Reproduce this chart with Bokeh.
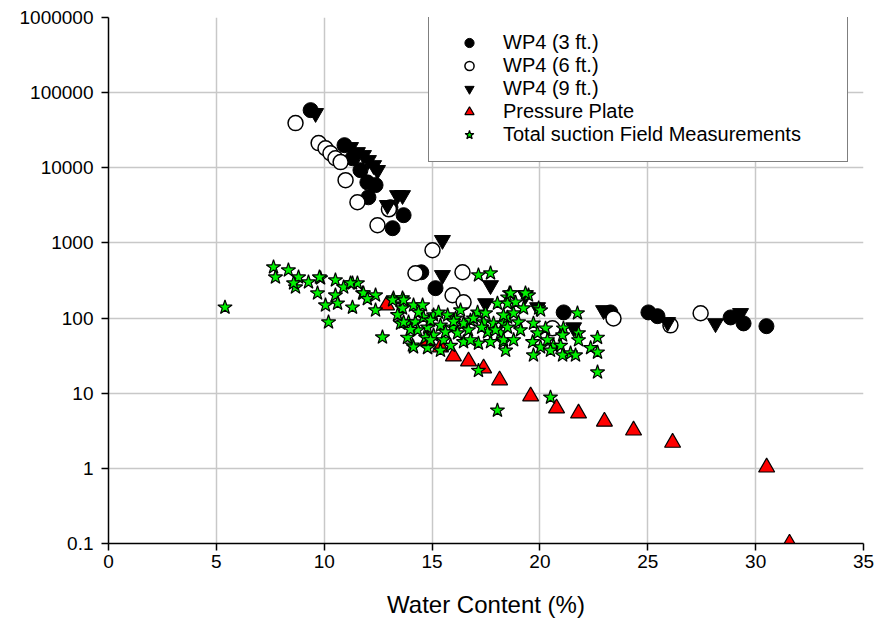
from bokeh.plotting import figure
from bokeh.models import FixedTicker, CustomJSTickFormatter, Legend, LegendItem
from bokeh.embed import file_html
from bokeh.resources import INLINE

# ---- data (water content %, suction) ----
wp3_x = [9.37, 10.94, 11.31, 11.68, 12.0, 12.38, 12.05, 13.07, 13.68, 13.17,
         14.5, 15.16, 21.1, 23.27, 25.03, 25.45, 28.84, 29.44, 30.5]
wp3_y = [58500, 20000, 13400, 9300, 6400, 5880, 4050, 2990, 2340, 1570,
         407, 250, 119, 119, 119, 106, 102, 85, 78]

wp6_x = [8.67, 9.74, 10.06, 10.29, 10.52, 10.76, 10.99, 11.54, 12.47, 13.0,
         15.02, 14.23, 16.41, 15.95, 16.46, 20.58, 23.41, 26.05, 27.45]
wp6_y = [39300, 21300, 18200, 15600, 13400, 11900, 6840, 3480, 1720, 2800,
         800, 395, 407, 201, 162, 73, 99, 80, 116]

wp9_x = [9.6, 11.22, 11.54, 11.82, 12.05, 12.29, 12.47, 13.4, 13.63, 12.93,
         15.48, 15.48, 17.71, 17.48, 19.33, 19.89, 21.56, 22.95, 25.92, 28.14, 29.3]
wp9_y = [53300, 18800, 16100, 14700, 12600, 10800, 9300, 4310, 4310, 3180,
         1090, 372, 273, 157, 201, 139, 75, 127, 88, 85, 116]

pp_x = [12.89, 14.79, 15.39, 15.99, 16.69, 17.39, 18.13, 19.57, 20.77, 21.79,
        22.99, 24.34, 26.15, 30.51, 31.57]
pp_y = [148, 50.6, 41, 31, 26.6, 21.5, 14.9, 9.1, 6.3, 5.4,
        4.2, 3.2, 2.2, 1.03, 0.1]

ts_x = [5.4, 7.65, 7.74, 8.34, 8.67, 8.81, 9.27, 9.83, 9.69, 10.06,
        10.2, 10.52, 10.52, 10.62, 10.9, 11.31, 11.54, 11.31, 11.78, 12.38,
        12.38, 12.7, 13.21, 13.63, 13.63, 13.54, 13.91, 14.09, 13.68, 14.14,
        14.56, 13.68, 14.23, 14.6, 15.07, 15.72, 14.79, 15.39, 15.95, 16.46,
        17.11, 16.78, 17.39, 18.03, 18.5, 17.85, 18.31, 14.14, 14.79, 14.7,
        15.53, 16.46, 17.15, 17.71, 18.31, 13.86, 15.07, 16.18, 17.57, 18.17,
        18.5, 18.59, 18.5, 18.87, 19.24, 18.31, 18.78, 19.01, 18.5, 19.1,
        18.31, 18.78, 18.41, 19.47, 19.94, 19.7, 20.26, 19.89, 19.66, 20.03,
        19.7, 20.35, 20.63, 21.09, 21.05, 20.96, 21.05, 21.42, 21.65, 21.74,
        21.79, 21.79, 22.67, 22.35, 22.67, 22.67, 20.49, 17.15, 18.03, 20.49,
        17.15, 17.71, 18.64, 19.33, 20.03, 8.58, 9.78, 11.82, 13.17, 11.22,
        14.37, 14.93, 15.3, 16.09, 16.32, 16.69, 16.92, 15.62, 17.48, 17.94,
        14.33, 15.86, 15.39, 14.93, 16.78, 13.4, 14.0, 16.0, 17.3, 12.0]
ts_y = [139, 475, 349, 433, 257, 349, 300, 339, 214, 148,
        88, 319, 201, 157, 257, 291, 291, 139, 214, 201,
        127, 55.5, 184, 184, 135, 85, 88, 43.4, 173, 148,
        148, 88, 88, 102, 109, 109, 75, 80, 75, 85,
        119, 93, 88, 157, 189, 85, 85, 41, 40, 55,
        51, 48, 46, 48, 48, 55, 59, 63, 65, 63,
        102, 214, 157, 162, 135, 109, 116, 88, 75, 69,
        51, 51, 37, 201, 135, 85, 73, 63, 48, 41,
        32, 51, 43, 73, 59, 43, 32, 34, 32, 116,
        63, 51, 55, 40, 35, 19, 37, 20, 5.9, 8.8,
        372, 395, 214, 214, 127, 291, 349, 214, 173, 291,
        119, 93, 119, 99, 127, 69, 99, 65, 116, 69,
        69, 43, 37, 51, 51, 110, 70, 90, 75, 180]

x_ticks = [0, 5, 10, 15, 20, 25, 30, 35]
y_ticks = [0.1, 1, 10, 100, 1000, 10000, 100000, 1000000]

FONT = "Liberation Sans"

p = figure(width=877, height=633, x_range=(0, 35), y_range=(0.1, 1e6),
           y_axis_type="log", output_backend="svg", toolbar_location=None,
           title=None, min_border_left=108, min_border_right=14,
           min_border_top=17, min_border_bottom=90)
p.outline_line_color = None
p.background_fill_color = "white"

p.xaxis.ticker = FixedTicker(ticks=x_ticks)
p.yaxis.ticker = FixedTicker(ticks=y_ticks)
p.yaxis.formatter = CustomJSTickFormatter(
    code="return tick < 1 ? tick.toString() : tick.toFixed(0);")

for ax in (p.xaxis, p.yaxis):
    ax.axis_line_color = "black"
    ax.axis_line_width = 1.5
    ax.major_tick_line_color = "black"
    ax.major_tick_line_width = 1.5
    ax.major_tick_out = 7
    ax.major_tick_in = 0
    ax.minor_tick_line_color = None
    ax.major_label_text_font = FONT
    ax.major_label_text_font_size = "19px"
    ax.major_label_text_color = "black"

p.yaxis.major_label_standoff = 8
p.xaxis.major_label_standoff = 4
p.xaxis.axis_label = "Water Content (%)"
p.xaxis.axis_label_text_font = FONT
p.xaxis.axis_label_text_font_size = "24px"
p.xaxis.axis_label_text_font_style = "normal"
p.xaxis.axis_label_text_color = "black"
p.xaxis.axis_label_standoff = 20

p.xgrid.grid_line_color = "#c8c8c8"
p.ygrid.grid_line_color = "#c8c8c8"
p.xgrid.grid_line_width = 1.5
p.ygrid.grid_line_width = 1.5

r3 = p.scatter(wp3_x, wp3_y, marker="circle", size=15,
               fill_color="black", line_color="black")
r6 = p.scatter(wp6_x, wp6_y, marker="circle", size=15,
               fill_color="white", line_color="black", line_width=1.5)
r9 = p.scatter(wp9_x, wp9_y, marker="inverted_triangle", size=16,
               fill_color="black", line_color="black")
rpp = p.scatter(pp_x, pp_y, marker="triangle", size=16,
                fill_color="#ff0000", line_color="black", line_width=1.2)
rts = p.scatter(ts_x, ts_y, marker="star", size=15,
                fill_color="#00f000", line_color="black", line_width=1.2)

legend = Legend(items=[
    LegendItem(label="WP4 (3 ft.)", renderers=[r3]),
    LegendItem(label="WP4 (6 ft.)", renderers=[r6]),
    LegendItem(label="WP4 (9 ft.)", renderers=[r9]),
    LegendItem(label="Pressure Plate", renderers=[rpp]),
    LegendItem(label="Total suction Field Measurements", renderers=[rts]),
], location=(320, 381), padding=15, glyph_width=50, glyph_height=23,
   label_height=23, label_width=329, label_standoff=9, spacing=0,
   border_line_color="black", border_line_width=1.5,
   background_fill_color="white", background_fill_alpha=1,
   label_text_font=FONT, label_text_font_size="20px", label_text_color="black",
   margin=0)
p.add_layout(legend)

open("out.html", "w").write(file_html(p, INLINE))
